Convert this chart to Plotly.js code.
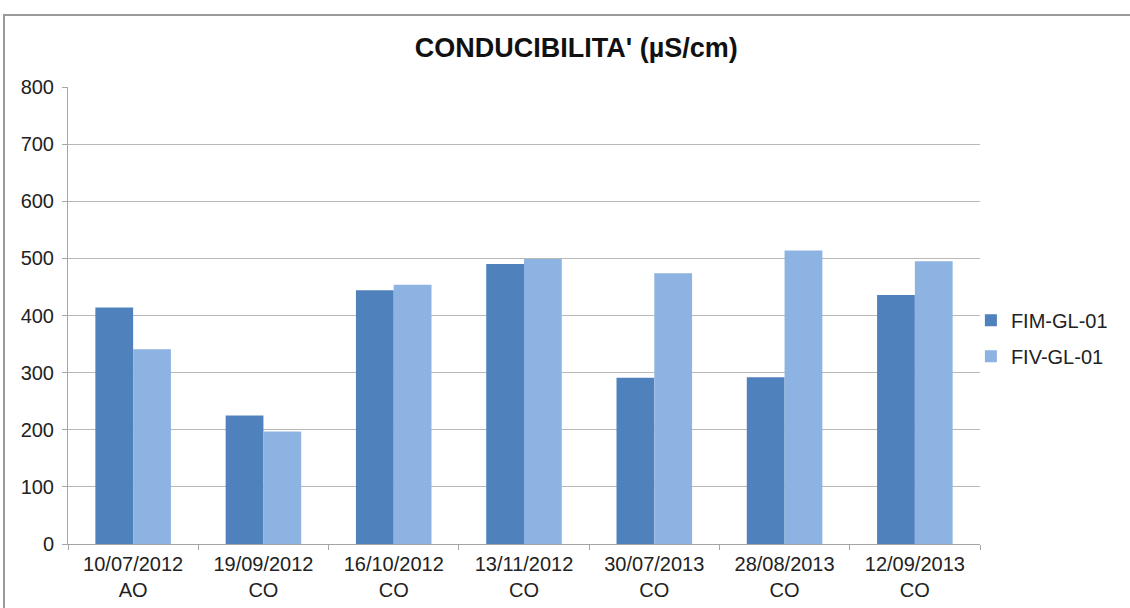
<!DOCTYPE html>
<html>
<head>
<meta charset="utf-8">
<script src="https://cdn.plot.ly/plotly-3.0.1.min.js"></script>
<style>
  html, body { margin: 0; padding: 0; background: #fff; }
  #wrap { position: relative; width: 1130px; height: 608px; }
  #chart { position: absolute; left: 0; top: 0; width: 1130px; height: 608px; }
  #frame { position: absolute; left: 3px; top: 14px; width: 1130px; height: 600px;
           border-top: 2px solid #9a9a9a; border-left: 2px solid #9a9a9a; pointer-events: none; }
</style>
</head>
<body>
<div id="wrap">
  <div id="chart"></div>
  <div id="frame"></div>
</div>
<script>
const dates = ["10/07/2012", "19/09/2012", "16/10/2012", "13/11/2012", "30/07/2013", "28/08/2013", "12/09/2013"];
const campaigns = ["AO", "CO", "CO", "CO", "CO", "CO", "CO"];
const categories = dates.map((d, i) => d + "<br>" + campaigns[i]);
const seriesNames = ["FIM-GL-01", "FIV-GL-01"];
const fimValues = [414, 225, 444, 490, 291, 292, 436];
const fivValues = [341, 197, 454, 499, 474, 514, 495];
const yTicks = [0, 100, 200, 300, 400, 500, 600, 700, 800];
const titleText = "CONDUCIBILITA' (µS/cm)";

const font = "Arial, 'Liberation Sans', sans-serif";
const traces = [
  { type: "bar", name: seriesNames[0], legendgroup: "a", x: categories, y: fimValues,
    marker: { color: "#4F81BD" } },
  { type: "bar", name: seriesNames[1], legendgroup: "b", x: categories, y: fivValues,
    marker: { color: "#8DB3E2" } }
];

const layout = {
  width: 1130, height: 608,
  margin: { l: 68, r: 150, t: 87, b: 64, pad: 0 },
  paper_bgcolor: "#ffffff", plot_bgcolor: "#ffffff",
  font: { family: font, size: 20, color: "#222222" },
  title: { text: titleText, font: { family: font, size: 27, color: "#111111", weight: "bold" },
           x: 0.51, xanchor: "center", y: 0.921, yanchor: "middle" },
  barmode: "group", bargap: 0.42, bargroupgap: 0,
  showlegend: true,
  legend: { x: 0.99, xanchor: "left", y: 0.45, yanchor: "middle", traceorder: "grouped",
            font: { family: font, size: 20, color: "#222222" },
            itemwidth: 30, tracegroupgap: 7, bgcolor: "rgba(0,0,0,0)" },
  xaxis: { type: "category", showgrid: false, showline: true, linecolor: "#a6a6a6", linewidth: 1,
           ticks: "outside", tickson: "boundaries", ticklen: 5, tickcolor: "#a6a6a6",
           ticklabelstandoff: 2,
           tickfont: { family: font, size: 20, color: "#222222" }, fixedrange: true },
  yaxis: { range: [0, 800], tickvals: yTicks, showgrid: true, gridcolor: "#b8b8b8", gridwidth: 1,
           showline: true, linecolor: "#a6a6a6", linewidth: 1, zeroline: false,
           ticks: "outside", ticklen: 5, tickcolor: "#a6a6a6", ticklabelstandoff: 4,
           tickfont: { family: font, size: 20, color: "#222222" }, fixedrange: true }
};

Plotly.newPlot("chart", traces, layout, { displayModeBar: false, staticPlot: true });
</script>
</body>
</html>
